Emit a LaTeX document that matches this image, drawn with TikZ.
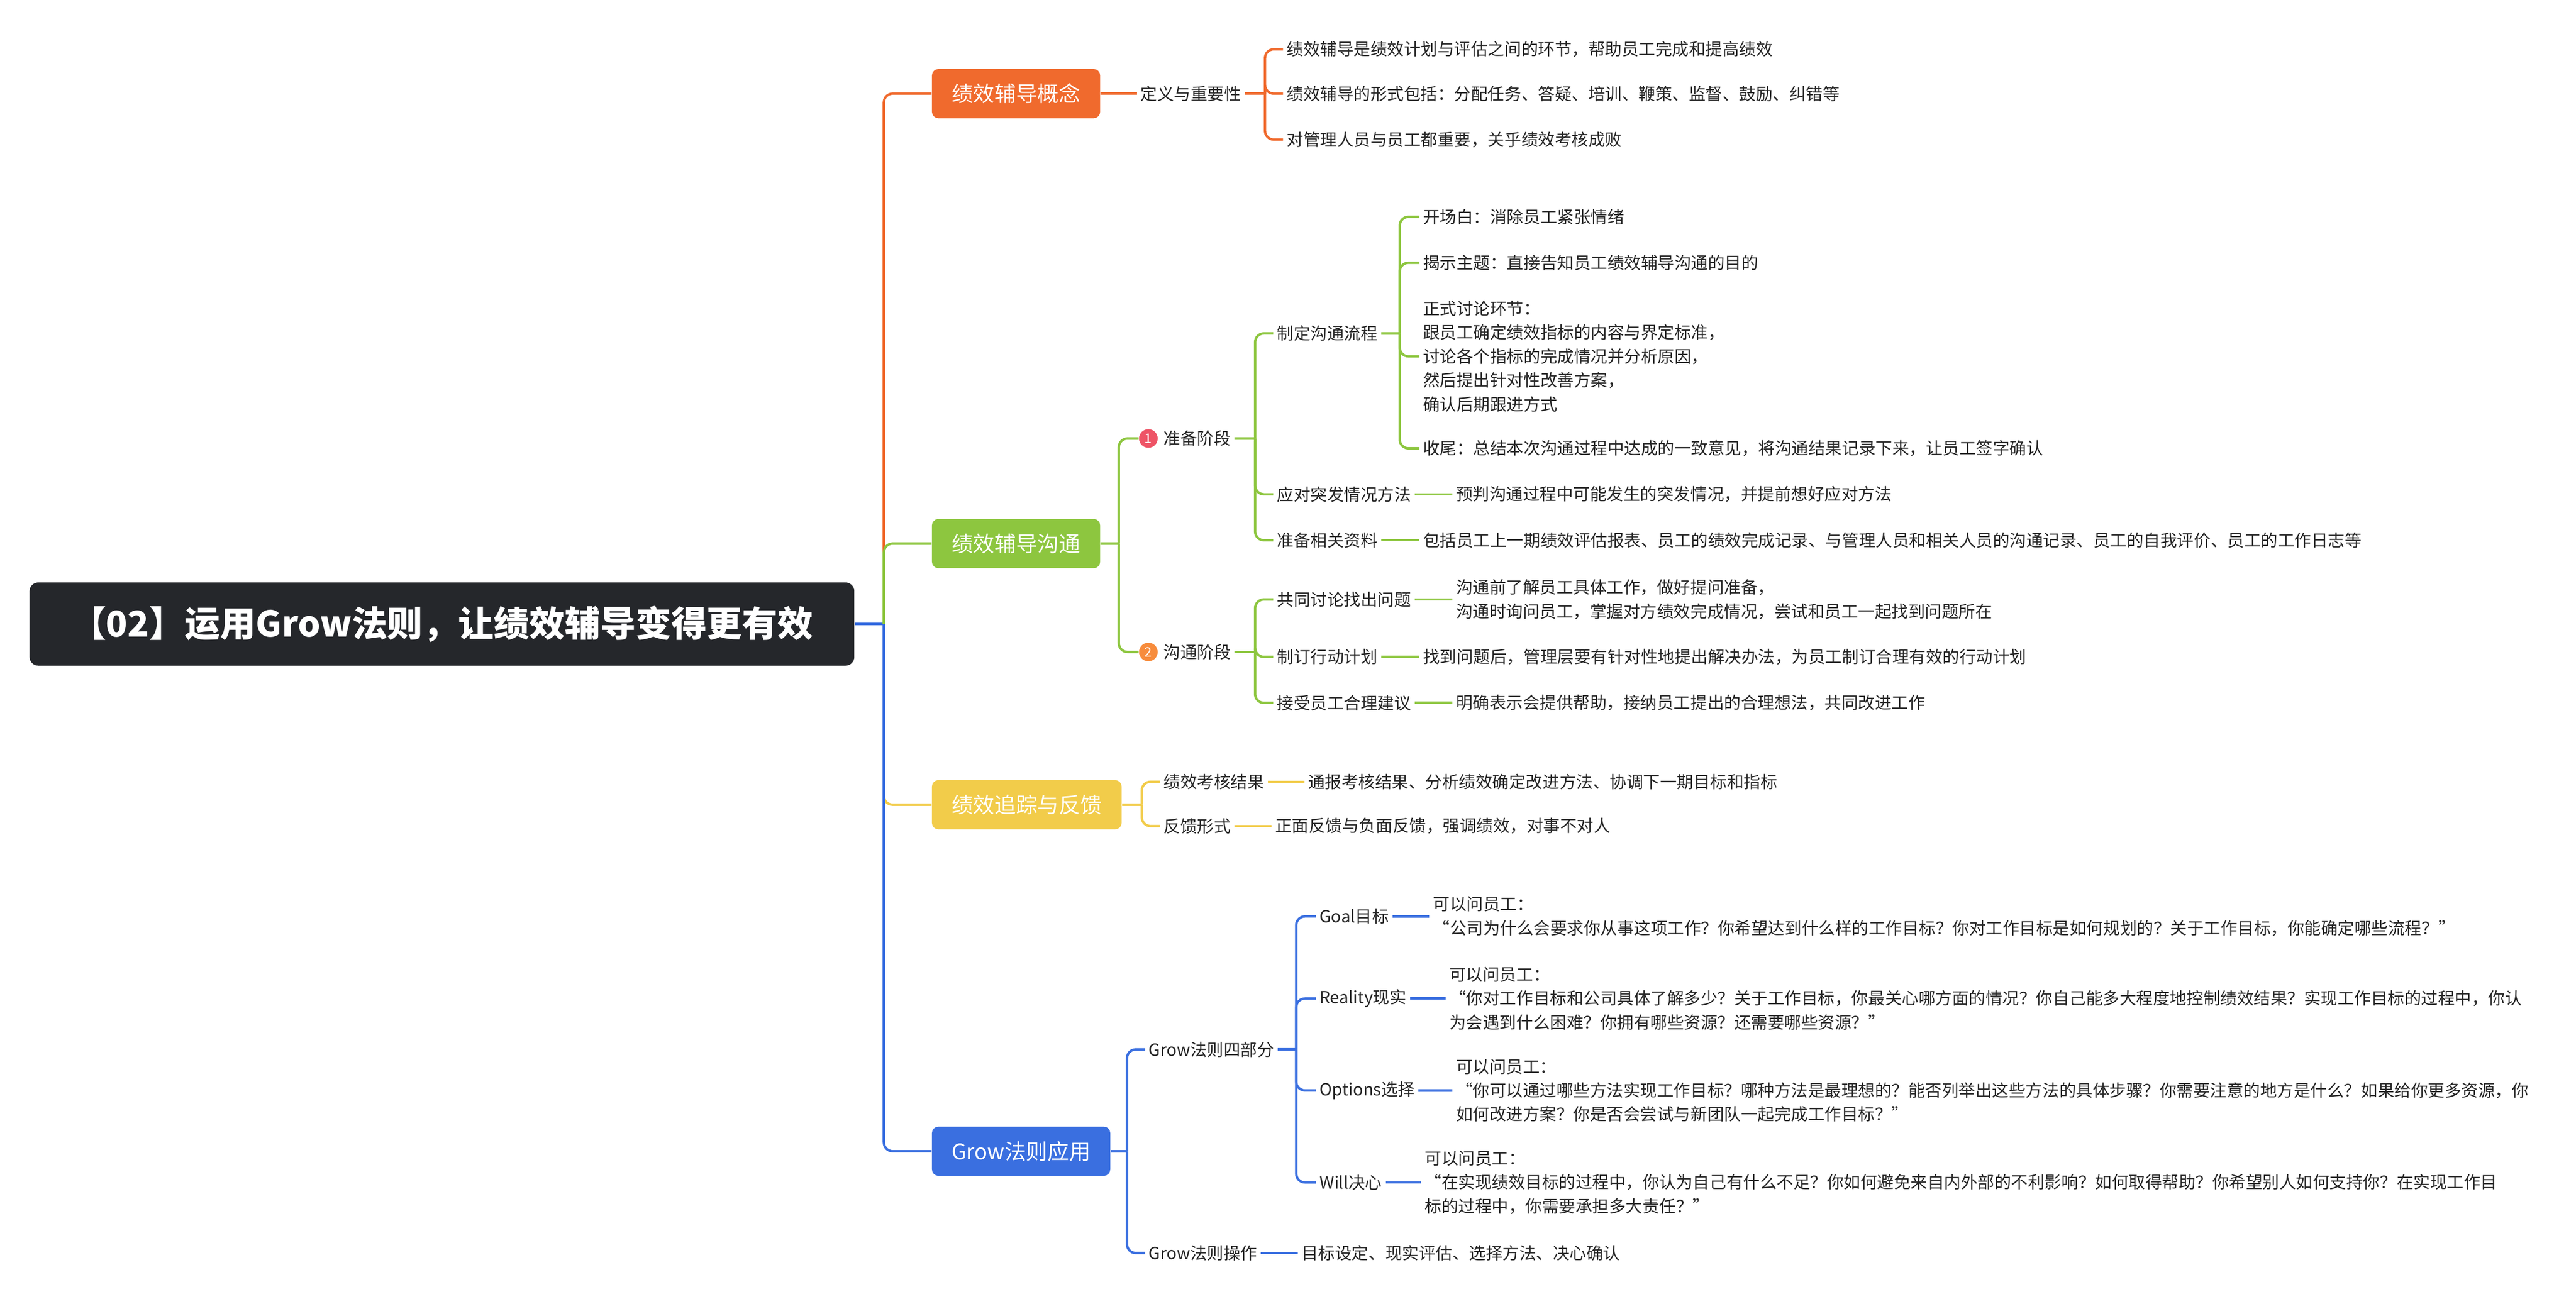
\documentclass[tikz,border=0pt]{standalone}
\usepackage{fontspec}
\setmainfont{Noto Sans CJK SC}
\usepackage{tikz}
\usetikzlibrary{positioning}
\definecolor{cOrange}{RGB}{240,106,45}
\definecolor{cGreen}{RGB}{141,198,63}
\definecolor{cYellow}{RGB}{242,204,74}
\definecolor{cBlue}{RGB}{58,111,224}
\definecolor{cDark}{RGB}{37,39,43}
\definecolor{cRed}{RGB}{238,84,102}
\definecolor{cOr2}{RGB}{247,140,60}
\tikzset{
  leaf/.style={anchor=west,inner sep=1.5,align=left,font=\fontsize{7.65}{10.9}\selectfont,text=black!85},
  branch/.style={fill=#1,rounded corners=3,text=white,minimum height=22.5,inner xsep=9,font=\fontsize{9.8}{12}\selectfont},
  link/.style={draw=#1,line width=1.1pt,rounded corners=4},
  numdot/.style={circle,fill=#1,inner sep=0,minimum size=8.5,text=white,font=\fontsize{6}{6}\selectfont}
}
\begin{document}
\begin{tikzpicture}[x=0.75pt,y=0.75pt,yscale=-1,xscale=1]
    \useasboundingbox (0,0) rectangle (1568,794);
    % title
    \node [fill=cDark,rounded corners=4,minimum width=376.5pt,minimum height=38pt,text=white,font=\fontsize{16.2}{19}\selectfont\bfseries] (root) at (269,380) {【02】运用Grow法则，让绩效辅导变得更有效};
    \coordinate (rt) at (538,380);

    % branches
    \node [branch=cOrange,anchor=west] (gai) at (567,57) {绩效辅导概念};
    \node [branch=cGreen,anchor=west] (gt) at (567,331) {绩效辅导沟通};
    \node [branch=cYellow,anchor=west] (zz) at (567,490) {绩效追踪与反馈};
    \node [branch=cBlue,anchor=west] (grow) at (567,701) {Grow法则应用};
    \draw [link=cBlue] (root.east) -- (rt);
    \draw [link=cOrange] (rt) |- (gai.west);
    \draw [link=cGreen] (rt) |- (gt.west);
    \draw [link=cYellow] (rt) |- (zz.west);
    \draw [link=cBlue] (rt) |- (grow.west);

    % 绩效辅导概念
    \node [leaf] (dy) at (692,57) {定义与重要性};
    \draw [link=cOrange] (gai.east) -- (dy.west);
    \node [leaf] (dy1) at (781,30) {绩效辅导是绩效计划与评估之间的环节，帮助员工完成和提高绩效};
    \node [leaf] (dy2) at (781,57) {绩效辅导的形式包括：分配任务、答疑、培训、鞭策、监督、鼓励、纠错等};
    \node [leaf] (dy3) at (781,85) {对管理人员与员工都重要，关乎绩效考核成败};
    \draw [link=cOrange] (dy.east) -- (770,57) coordinate (dyb);
    \foreach \n in {dy1,dy2,dy3} \draw [link=cOrange] (dyb) |- (\n.west);

    % 绩效辅导沟通
    \coordinate (gtb) at (681,331);
    \draw [link=cGreen] (gt.east) -- (gtb);
    \node [numdot=cRed] (zbn) at (699,267) {1};
    \node [leaf] (zb) at (706,267) {准备阶段};
    \node [numdot=cOr2] (gtn) at (699,397) {2};
    \node [leaf] (gtj) at (706,397) {沟通阶段};
    \draw [link=cGreen] (gtb) |- (zbn.west);
    \draw [link=cGreen] (gtb) |- (gtn.west);

    \node [leaf] (lc) at (775,203) {制定沟通流程};
    \node [leaf] (tf) at (775,301) {应对突发情况方法};
    \node [leaf] (zl) at (775,329) {准备相关资料};
    \draw [link=cGreen] (zb.east) -- (764,267) coordinate (zbb);
    \foreach \n in {lc,tf,zl} \draw [link=cGreen] (zbb) |- (\n.west);

    \node [leaf] (lc1) at (864,132) {开场白：消除员工紧张情绪};
    \node [leaf] (lc2) at (864,160) {揭示主题：直接告知员工绩效辅导沟通的目的};
    \node [leaf] (lc3) at (864,217) {正式讨论环节：\\跟员工确定绩效指标的内容与界定标准，\\讨论各个指标的完成情况并分析原因，\\然后提出针对性改善方案，\\确认后期跟进方式};
    \node [leaf] (lc4) at (864,273) {收尾：总结本次沟通过程中达成的一致意见，将沟通结果记录下来，让员工签字确认};
    \draw [link=cGreen] (lc.east) -- (852,203) coordinate (lcb);
    \foreach \n in {lc1,lc2,lc3,lc4} \draw [link=cGreen] (lcb) |- (\n.west);
    \node [leaf] (tf1) at (884,301) {预判沟通过程中可能发生的突发情况，并提前想好应对方法};
    \draw [link=cGreen] (tf.east) -- (tf1.west);
    \node [leaf] (zl1) at (864,329) {包括员工上一期绩效评估报表、员工的绩效完成记录、与管理人员和相关人员的沟通记录、员工的自我评价、员工的工作日志等};
    \draw [link=cGreen] (zl.east) -- (zl1.west);

    \node [leaf] (wt) at (775,365) {共同讨论找出问题};
    \node [leaf] (jh) at (775,400) {制订行动计划};
    \node [leaf] (jy) at (775,428) {接受员工合理建议};
    \draw [link=cGreen] (gtj.east) -- (764,397) coordinate (gtjb);
    \foreach \n in {wt,jh,jy} \draw [link=cGreen] (gtjb) |- (\n.west);
    \node [leaf] (wt1) at (884,365) {沟通前了解员工具体工作，做好提问准备，\\沟通时询问员工，掌握对方绩效完成情况，尝试和员工一起找到问题所在};
    \node [leaf] (jh1) at (864,400) {找到问题后，管理层要有针对性地提出解决办法，为员工制订合理有效的行动计划};
    \node [leaf] (jy1) at (884,428) {明确表示会提供帮助，接纳员工提出的合理想法，共同改进工作};
    \draw [link=cGreen] (wt.east) -- (wt1.west);
    \draw [link=cGreen] (jh.east) -- (jh1.west);
    \draw [link=cGreen] (jy.east) -- (jy1.west);

    % 绩效追踪与反馈
    \node [leaf] (kh) at (706,476) {绩效考核结果};
    \node [leaf] (fk) at (706,503) {反馈形式};
    \draw [link=cYellow] (zz.east) -- (695,490) coordinate (zzb);
    \foreach \n in {kh,fk} \draw [link=cYellow] (zzb) |- (\n.west);
    \node [leaf] (kh1) at (794,476) {通报考核结果、分析绩效确定改进方法、协调下一期目标和指标};
    \node [leaf] (fk1) at (774,503) {正面反馈与负面反馈，强调绩效，对事不对人};
    \draw [link=cYellow] (kh.east) -- (kh1.west);
    \draw [link=cYellow] (fk.east) -- (fk1.west);

    % Grow法则应用
    \node [leaf] (sbf) at (697,639) {Grow法则四部分};
    \node [leaf] (cz) at (697,763) {Grow法则操作};
    \draw [link=cBlue] (grow.east) -- (686,701) coordinate (growb);
    \foreach \n in {sbf,cz} \draw [link=cBlue] (growb) |- (\n.west);
    \node [leaf] (goal) at (801,558) {Goal目标};
    \node [leaf] (real) at (801,608) {Reality现实};
    \node [leaf] (opt) at (801,664) {Options选择};
    \node [leaf] (will) at (801,720) {Will决心};
    \draw [link=cBlue] (sbf.east) -- (789,639) coordinate (sbfb);
    \foreach \n in {goal,real,opt,will} \draw [link=cBlue] (sbfb) |- (\n.west);
    \node [leaf] (goal1) at (870,558) {可以问员工：\\“公司为什么会要求你从事这项工作？你希望达到什么样的工作目标？你对工作目标是如何规划的？关于工作目标，你能确定哪些流程？”};
    \node [leaf] (real1) at (880,608) {可以问员工：\\“你对工作目标和公司具体了解多少？关于工作目标，你最关心哪方面的情况？你自己能多大程度地控制绩效结果？实现工作目标的过程中，你认\\为会遇到什么困难？你拥有哪些资源？还需要哪些资源？”};
    \node [leaf] (opt1) at (884,664) {可以问员工：\\“你可以通过哪些方法实现工作目标？哪种方法是最理想的？能否列举出这些方法的具体步骤？你需要注意的地方是什么？如果给你更多资源，你\\如何改进方案？你是否会尝试与新团队一起完成工作目标？”};
    \node [leaf] (will1) at (865,720) {可以问员工：\\“在实现绩效目标的过程中，你认为自己有什么不足？你如何避免来自内外部的不利影响？如何取得帮助？你希望别人如何支持你？在实现工作目\\标的过程中，你需要承担多大责任？”};
    \draw [link=cBlue] (goal.east) -- (goal1.west);
    \draw [link=cBlue] (real.east) -- (real1.west);
    \draw [link=cBlue] (opt.east) -- (opt1.west);
    \draw [link=cBlue] (will.east) -- (will1.west);
    \node [leaf] (cz1) at (790,763) {目标设定、现实评估、选择方法、决心确认};
    \draw [link=cBlue] (cz.east) -- (cz1.west);
\end{tikzpicture}
\end{document}
